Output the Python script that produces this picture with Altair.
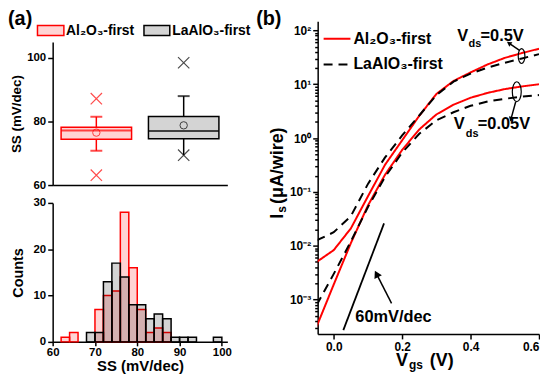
import altair as alt
import pandas as pd

FONT = "Liberation Sans"
RED = "#ff0000"
BLACK = "#000000"
RED_FILL = "rgba(255,0,0,0.17)"
BLACK_FILL = "rgba(0,0,0,0.17)"

groups = ["Al₂O₃-first", "LaAlO₃-first"]

# ---------------- (a) box-plot summary (SS, mV/dec) ----------------
box_q1 = [74.4, 74.6]
box_q3 = [78.2, 81.6]
box_median = [77.2, 77.0]
box_mean = [76.5, 78.8]
whisker_low = [70.8, 69.4]
whisker_high = [81.5, 88.0]
cap_group = [groups[0], groups[0], groups[1]]
cap_value = [81.5, 70.8, 88.0]
outlier_group = [groups[0], groups[0], groups[1], groups[1]]
outlier_value = [87.2, 63.1, 98.5, 69.4]

# ---------------- (a) histogram ----------------
bin_left = [62, 64, 66, 68, 70, 72, 74, 76, 78, 80, 82, 84, 86, 88, 90, 92, 94, 96, 98]
bin_width = 2
al_counts = [1, 2, 0, 0, 7, 10, 11, 28, 16, 7, 2, 3, 2, 0, 0, 0, 0, 0, 0]
la_counts = [0, 0, 0, 2, 2, 13, 17, 14, 8, 8, 5, 6, 5, 1, 1, 1, 0, 0, 1]

# ---------------- (b) transfer curves (Is, uA/wire) ----------------
vgs = [-0.05, 0.0, 0.05, 0.1, 0.15, 0.2, 0.25, 0.3, 0.35, 0.4, 0.45, 0.5, 0.55, 0.6]
al_vds05 = [5.0e-3, 8.3e-3, 2.1e-2, 8.3e-2, 0.32, 0.91, 2.6, 6.6, 11.5, 16.6, 23.4, 30.9, 38.0, 45.7]
la_vds05 = [1.26e-2, 1.78e-2, 3.55e-2, 0.141, 0.437, 1.12, 2.63, 6.3, 11.2, 15.8, 20.4, 25.1, 30.2, 36.3]
al_vds005 = [3.16e-4, 1.91e-3, 1.12e-2, 5.62e-2, 0.209, 0.603, 1.45, 2.75, 4.17, 5.62, 6.92, 8.13, 9.12, 10.0]
la_vds005 = [7.9e-4, 3.0e-3, 1.2e-2, 5.25e-2, 0.19, 0.537, 1.2, 2.14, 3.02, 3.98, 4.79, 5.37, 5.89, 6.31]
slope_vgs = [0.028, 0.147]
slope_I = [2.7e-4, 2.6e-2]

one = pd.DataFrame({"v": [0]})

# ======================= panel (a) top : box plot =======================
box_df = pd.DataFrame({"group": groups, "q1": box_q1, "q3": box_q3, "median": box_median,
                       "mean": box_mean, "lo": whisker_low, "hi": whisker_high})
cap_df = pd.DataFrame({"group": cap_group, "v": cap_value})
out_df = pd.DataFrame({"group": outlier_group, "v": outlier_value})

ybox_scale = alt.Scale(domain=[60, 105], nice=False, zero=False)
xbox = alt.X("group:N", scale=alt.Scale(domain=groups, paddingInner=0, paddingOuter=0),
             axis=alt.Axis(labels=False, ticks=False, title=None, domainWidth=1.5))
color_enc = alt.Color("group:N", scale=alt.Scale(domain=groups, range=[RED, BLACK]), legend=None)

ybox_axis = alt.Axis(values=[60, 65, 70, 75, 80, 85, 90, 95, 100, 105],
                     labelExpr="datum.value % 10 == 0 && datum.value <= 100 ? datum.value : ''",
                     tickSize={"condition": {"test": "datum.value % 10 == 0", "value": 5}, "value": 3},
                     title="SS (mV/dec)", titleFontSize=13.5, titlePadding=3, labelFontSize=11.5,
                     labelPadding=2)

box_base = alt.Chart(box_df)
boxes = box_base.mark_bar(size=71, strokeWidth=1.5).encode(
    x=xbox,
    y=alt.Y("q1:Q", scale=ybox_scale, axis=ybox_axis),
    y2="q3:Q",
    fill=alt.Fill("group:N", scale=alt.Scale(domain=groups, range=[RED_FILL, BLACK_FILL]), legend=None),
    stroke=alt.Stroke("group:N", scale=alt.Scale(domain=groups, range=[RED, BLACK]), legend=None),
)
whisk_lo = box_base.mark_rule(strokeWidth=1.5).encode(x=xbox, y=alt.Y("lo:Q", scale=ybox_scale), y2="q1:Q", color=color_enc)
whisk_hi = box_base.mark_rule(strokeWidth=1.5).encode(x=xbox, y=alt.Y("q3:Q", scale=ybox_scale), y2="hi:Q", color=color_enc)
medians = box_base.mark_tick(size=71, thickness=2).encode(x=xbox, y=alt.Y("median:Q", scale=ybox_scale), color=color_enc)
means = box_base.mark_point(shape="circle", size=55, filled=False, strokeWidth=1).encode(
    x=xbox, y=alt.Y("mean:Q", scale=ybox_scale), color=color_enc)
caps = alt.Chart(cap_df).mark_tick(size=12, thickness=2).encode(
    x=xbox, y=alt.Y("v:Q", scale=ybox_scale), color=color_enc)
outliers = alt.Chart(out_df).mark_point(shape="M-1,-1L1,1M-1,1L1,-1", size=130, filled=False,
                                        strokeWidth=1.2).encode(
    x=xbox, y=alt.Y("v:Q", scale=ybox_scale), color=color_enc)

box_chart = alt.layer(whisk_lo, whisk_hi, boxes, medians, caps, means, outliers).properties(
    width=176, height=144)

# ======================= panel (a) bottom : histogram =======================
hist_df = pd.DataFrame({"left": bin_left, "al": al_counts, "la": la_counts})
hist_df["right"] = hist_df["left"] + bin_width

xh_scale = alt.Scale(domain=[60, 101.3], nice=False, zero=False)
yh_scale = alt.Scale(domain=[0, 30], nice=False)
xh_axis = alt.Axis(values=[60 + 2.5 * i for i in range(17)],
                   labelExpr="datum.value % 5 == 0 ? datum.value : ''",
                   tickSize={"condition": {"test": "datum.value % 5 == 0", "value": 4}, "value": 2.5},
                   title="SS (mV/dec)", titleFontSize=15, labelFontSize=11.5, labelPadding=1,
                   titlePadding=0, labelFlush=False)
yh_axis = alt.Axis(values=[2.5 * i for i in range(13)],
                   labelExpr="datum.value % 5 == 0 ? datum.value : ''",
                   tickSize={"condition": {"test": "datum.value % 5 == 0", "value": 5}, "value": 3},
                   title="Counts", titleFontSize=14.5, labelFontSize=11.5, labelPadding=2,
                   titlePadding=8)

hbase = alt.Chart(hist_df)
al_bars = hbase.transform_filter("datum.al > 0").mark_bar(fill=RED_FILL, stroke=RED, strokeWidth=1.5).encode(
    x=alt.X("left:Q", scale=xh_scale, axis=xh_axis), x2="right:Q",
    y=alt.Y("al:Q", scale=yh_scale, axis=yh_axis), y2=alt.datum(0))
la_bars = hbase.transform_filter("datum.la > 0").mark_bar(fill=BLACK_FILL, stroke=BLACK, strokeWidth=1.5).encode(
    x=alt.X("left:Q", scale=xh_scale), x2="right:Q",
    y=alt.Y("la:Q", scale=yh_scale), y2=alt.datum(0))
hist_chart = alt.layer(al_bars, la_bars).properties(width=176, height=140)

# spacer carrying the "(a)" label and the legend of panel (a)
def swatch(x0, x1, fill, stroke):
    return alt.Chart(one).mark_rect(fill=fill, stroke=stroke, strokeWidth=1.5).encode(
        x=alt.value(x0), x2=alt.value(x1), y=alt.value(4.3), y2=alt.value(14.3))

def leg_text(txt, x0):
    return alt.Chart(one).mark_text(text=txt, fontSize=14, fontWeight="bold", font=FONT, color=BLACK,
                                    align="left", baseline="middle").encode(
        x=alt.value(x0), y=alt.value(9.8))

TITLE_OFFSET = -23.5
spacer = alt.layer(
    swatch(-15.3, 11.3, RED_FILL, RED), leg_text(groups[0], 13.5),
    swatch(92, 118, BLACK_FILL, BLACK), leg_text(groups[1], 120.5),
).properties(
    width=176, height=3,
    title=alt.TitleParams("(a)", anchor="start", frame="group", dx=-45, fontSize=20, font=FONT,
                          fontWeight="bold", baseline="alphabetic", offset=TITLE_OFFSET, color="black"))

left_col = alt.vconcat(spacer, box_chart, hist_chart, spacing=18, bounds="flush").resolve_scale(
    fill="independent", stroke="independent", color="independent").resolve_legend(
    fill="independent", stroke="independent", color="independent")

# ======================= panel (b) =======================
rows = []
for name, vds, vals in [(groups[0], "0.5V", al_vds05), (groups[1], "0.5V", la_vds05),
                        (groups[0], "0.05V", al_vds005), (groups[1], "0.05V", la_vds005)]:
    for v, i in zip(vgs, vals):
        rows.append({"group": name, "vds": vds, "vgs": v, "I": i})
b_df = pd.DataFrame(rows)

xb_scale = alt.Scale(domain=[-0.047, 0.6], nice=False, zero=False)
yb_scale = alt.Scale(type="log", domain=[2.3e-4, 148], nice=False)

major_dec = [-3, -2, -1, 0, 1, 2]
sup = ["⁻³", "⁻²", "⁻¹", "⁰", "¹", "²"]
log_vals = [m * 10.0 ** k for k in range(-4, 3) for m in range(1, 10)
            if 2.3e-4 <= m * 10.0 ** k <= 148]
parts = []
for k, s in zip(major_dec, sup):
    v = 10.0 ** k
    parts.append(f"abs(datum.value - {v!r}) < {v * 1e-6!r} ? '10{s}'")
log_label_expr = " : ".join(parts) + " : ''"
is_decade = "abs(log(datum.value)/LN10 - round(log(datum.value)/LN10)) < 0.001"

yb_axis = alt.Axis(values=log_vals, labelExpr=log_label_expr,
                   tickSize={"condition": {"test": is_decade, "value": 5}, "value": 3},
                   title=None, labelFontSize=12, labelPadding=2)
xb_axis = alt.Axis(values=[round(-0.05 + 0.05 * i, 2) for i in range(14)],
                   labelExpr="abs(datum.value*10 - round(datum.value*10)) < 0.01 ? format(datum.value, '.1f') : ''",
                   tickSize={"condition": {"test": "abs(datum.value*10 - round(datum.value*10)) < 0.01", "value": 5}, "value": 3},
                   title=None, labelFontSize=12, labelPadding=3, labelFlush=True)

leg_b = dict(orient="none", legendX=5, legendY=3, direction="vertical", title=None,
             symbolType="stroke", symbolSize=729, symbolStrokeWidth=2,
             labelFontSize=16, labelFontWeight="bold", labelFont=FONT, labelColor="black",
             rowPadding=3, labelOffset=2, padding=0)

lines = alt.Chart(b_df).mark_line(strokeWidth=2, clip=True).encode(
    x=alt.X("vgs:Q", scale=xb_scale, axis=xb_axis),
    y=alt.Y("I:Q", scale=yb_scale, axis=yb_axis),
    stroke=alt.Stroke("group:N", scale=alt.Scale(domain=groups, range=[RED, BLACK]), legend=alt.Legend(**leg_b)),
    strokeDash=alt.StrokeDash("group:N", scale=alt.Scale(domain=groups, range=[[1, 0], [9, 6]]), legend=alt.Legend(**leg_b)),
    detail="vds:N",
    order="vgs:Q",
)

slope_df = pd.DataFrame({"vgs": slope_vgs, "I": slope_I})
slope_line = alt.Chart(slope_df).mark_line(color=BLACK, strokeWidth=1.8).encode(
    x=alt.X("vgs:Q", scale=xb_scale), y=alt.Y("I:Q", scale=yb_scale))

# annotation arrows: tail -> tip, in data coordinates
arrow_df = pd.DataFrame({
    "x0": [0.169, 0.543, 0.532], "y0": [8.5e-4, 42.8, 4.75],
    "x1": [0.125, 0.512, 0.518], "y1": [3.0e-3, 58.0, 2.25],
    "ang": [333, 304, 195], "sz": [70, 30, 30]})
arrow_shaft = alt.Chart(arrow_df).mark_rule(color=BLACK, strokeWidth=1.5).encode(
    x=alt.X("x0:Q", scale=xb_scale), y=alt.Y("y0:Q", scale=yb_scale), x2="x1:Q", y2="y1:Q")
arrow_head = alt.Chart(arrow_df).mark_point(shape="triangle-up", filled=True, color=BLACK, opacity=1).encode(
    x=alt.X("x1:Q", scale=xb_scale), y=alt.Y("y1:Q", scale=yb_scale),
    angle=alt.Angle("ang:Q", scale=None), size=alt.Size("sz:Q", scale=None))

ell_df = pd.DataFrame({"vgs": [0.549, 0.535], "I": [33.4, 7.28], "sz": [225, 400]})
ellipses = alt.Chart(ell_df).mark_point(shape="M0,-1A0.45,1 0 1,1 0,1A0.45,1 0 1,1 0,-1Z",
                                        filled=False, color=BLACK, strokeWidth=1.2, opacity=1).encode(
    x=alt.X("vgs:Q", scale=xb_scale), y=alt.Y("I:Q", scale=yb_scale), size=alt.Size("sz:Q", scale=None))

ann_df = pd.DataFrame({
    "t": ["V", "ds", "=0.5V", "V", "ds", "=0.05V", "60mV/dec"],
    "vgs": [0.361, 0.394, 0.429, 0.351, 0.386, 0.421, 0.063],
    "I": [64.3, 49.2, 64.3, 1.47, 1.07, 1.47, 3.9e-4],
    "fs": [16.5, 11, 16.5, 16.5, 11, 16.5, 16.5]})
ann = alt.Chart(ann_df).mark_text(align="left", baseline="alphabetic", fontWeight="bold", font=FONT,
                                  color=BLACK).encode(
    x=alt.X("vgs:Q", scale=xb_scale), y=alt.Y("I:Q", scale=yb_scale), text="t:N",
    size=alt.Size("fs:Q", scale=None))

def label(txt, x, y, fs, angle=0):
    return alt.Chart(one).mark_text(text=txt, fontSize=fs, fontWeight="bold", font=FONT, color=BLACK,
                                    align="left", baseline="alphabetic", angle=angle).encode(
        x=alt.value(x), y=alt.value(y))

titles_b = [
    label("V", 79, 347, 18), label("gs", 92, 350, 12), label("(V)", 113, 347, 18),
    label("I", -35, 199, 18, 270), label("s", -32, 193, 12, 270), label("(μA/wire)", -35, 184, 18, 270),
]

panel_b = alt.layer(lines, slope_line, arrow_shaft, arrow_head, ellipses, ann, *titles_b).properties(
    width=223, height=315,
    title=alt.TitleParams("(b)", anchor="start", frame="group", dx=-62, fontSize=20, font=FONT,
                          fontWeight="bold", baseline="alphabetic", offset=TITLE_OFFSET, color="black"))

chart = alt.hconcat(left_col, panel_b, spacing=5, bounds="full").resolve_scale(
    fill="independent", stroke="independent", strokeDash="independent", color="independent").resolve_legend(
    fill="independent", stroke="independent", strokeDash="independent", color="independent").properties(
    padding={"left": 0, "top": -1, "right": 0, "bottom": 0}).configure(font=FONT).configure_view(
    stroke=None).configure_axis(
    labelFont=FONT, labelFontWeight="bold", titleFont=FONT, titleFontWeight="bold",
    labelColor="black", titleColor="black", domainColor="black", tickColor="black",
    domainWidth=1.5, tickWidth=1.5, grid=False)

chart.save("out.html", embed_options={"renderer": "svg", "actions": False})
